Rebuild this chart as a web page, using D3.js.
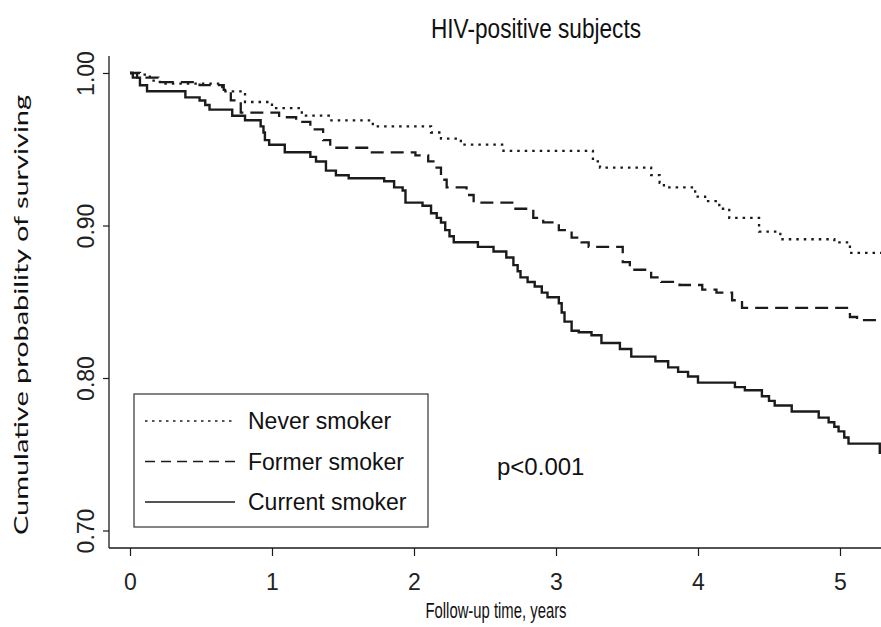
<!DOCTYPE html>
<html>
<head>
<meta charset="utf-8">
<script src="https://cdn.jsdelivr.net/npm/d3@7"></script>
<style>
  body { margin: 0; background: #fff; }
  svg { display: block; }
</style>
</head>
<body>
<div id="chart"></div>
<script>
/**
 * DATA  (follow-up years, cumulative survival)
 * */
const neverSmoker = [
  [0, 1.0], [0.07, 0.999], [0.14, 0.995], [0.21, 0.993], [0.65, 0.988],
  [0.81, 0.981], [1.0, 0.977], [1.21, 0.972], [1.4, 0.969], [1.71, 0.965],
  [2.12, 0.961], [2.19, 0.957], [2.33, 0.953], [2.63, 0.949], [3.26, 0.942],
  [3.31, 0.938], [3.67, 0.933], [3.73, 0.928], [3.76, 0.925], [3.98, 0.919],
  [4.05, 0.916], [4.15, 0.911], [4.22, 0.905], [4.43, 0.896], [4.58, 0.891],
  [4.96, 0.889], [5.07, 0.882], [5.3, 0.882]
];

const formerSmoker = [
  [0, 1.0], [0.05, 0.997], [0.2, 0.994], [0.49, 0.992], [0.66, 0.989],
  [0.71, 0.982], [0.78, 0.974], [1.05, 0.971], [1.17, 0.968], [1.27, 0.963],
  [1.36, 0.956], [1.41, 0.951], [1.69, 0.948], [2.01, 0.946], [2.1, 0.942],
  [2.15, 0.938], [2.19, 0.93], [2.23, 0.925], [2.37, 0.92], [2.42, 0.915],
  [2.7, 0.911], [2.84, 0.905], [2.91, 0.902], [3.02, 0.897], [3.11, 0.892],
  [3.18, 0.889], [3.23, 0.886], [3.47, 0.876], [3.52, 0.871], [3.67, 0.866],
  [3.74, 0.863], [3.87, 0.861], [4.03, 0.858], [4.13, 0.856], [4.24, 0.851],
  [4.31, 0.846], [5.07, 0.84], [5.12, 0.838], [5.3, 0.838]
];

const currentSmoker = [
  [0, 1.0], [0.02, 0.997], [0.07, 0.992], [0.12, 0.988], [0.39, 0.984],
  [0.49, 0.982], [0.53, 0.979], [0.56, 0.976], [0.72, 0.972], [0.81, 0.969],
  [0.92, 0.965], [0.94, 0.961], [0.95, 0.956], [0.98, 0.953], [1.09, 0.948],
  [1.27, 0.945], [1.31, 0.942], [1.38, 0.936], [1.45, 0.933], [1.54, 0.931],
  [1.79, 0.929], [1.86, 0.925], [1.92, 0.923], [1.94, 0.915], [2.06, 0.913],
  [2.12, 0.908], [2.16, 0.905], [2.19, 0.902], [2.22, 0.897], [2.25, 0.893],
  [2.28, 0.889], [2.45, 0.886], [2.56, 0.883], [2.65, 0.879], [2.7, 0.874],
  [2.73, 0.87], [2.75, 0.866], [2.8, 0.863], [2.85, 0.86], [2.9, 0.856],
  [2.94, 0.853], [3.02, 0.849], [3.04, 0.843], [3.06, 0.837], [3.11, 0.831],
  [3.16, 0.83], [3.25, 0.828], [3.32, 0.823], [3.45, 0.819], [3.53, 0.814],
  [3.7, 0.811], [3.79, 0.807], [3.86, 0.804], [3.93, 0.801], [4.0, 0.797],
  [4.26, 0.794], [4.33, 0.792], [4.45, 0.788], [4.5, 0.785], [4.54, 0.782],
  [4.66, 0.778], [4.85, 0.774], [4.92, 0.771], [4.96, 0.768], [4.99, 0.765],
  [5.03, 0.761], [5.06, 0.757], [5.28, 0.751], [5.3, 0.751]
];

const seriesNames = ["Never smoker", "Former smoker", "Current smoker"];
const xTicks = [0, 1, 2, 3, 4, 5];
const yTicks = [0.7, 0.8, 0.9, 1.0];

/**
 * CONSTANTS
 * */
const width = 881, height = 627;
const ink = "#1b1b1b";
const narrow = "'Liberation Sans Narrow', 'Arial Narrow', 'Liberation Sans', Arial, sans-serif";
const sans = "'Liberation Sans', Arial, sans-serif";

const dashes = ["2.5,5", "13,7", null];
const legendDashes = ["2.5,4.5", "10,6", null];

const svg = d3.select("#chart")
  .append("svg")
  .attr("width", width)
  .attr("height", height);

const x = d3.scaleLinear().domain([0, 5.3]).range([130, 130 + 142 * 5.3]);
const y = d3.scaleLinear().domain([0.7, 1.0]).range([530.5, 73]);

// axes (R-style: left and bottom only)
const axisX = 109, axisY = 548;

svg.append("line")
  .attr("x1", axisX).attr("x2", axisX)
  .attr("y1", 56).attr("y2", axisY)
  .attr("stroke", ink).attr("stroke-width", 1.3);

svg.append("line")
  .attr("x1", axisX).attr("x2", width)
  .attr("y1", axisY).attr("y2", axisY)
  .attr("stroke", ink).attr("stroke-width", 1.3);

const gy = svg.append("g")
  .attr("transform", `translate(${axisX},0)`)
  .call(d3.axisLeft(y).tickValues(yTicks).tickSize(6).tickFormat(d3.format(".2f")));
gy.select(".domain").remove();
gy.selectAll(".tick line").attr("stroke", ink).attr("stroke-width", 1.2);
gy.selectAll(".tick text")
  .attr("x", 0).attr("dy", 0)
  .attr("transform", "translate(-15,0) rotate(-90)")
  .attr("text-anchor", "middle")
  .attr("font-family", sans)
  .attr("font-size", 23)
  .attr("fill", "#222");

const gx = svg.append("g")
  .attr("transform", `translate(0,${axisY})`)
  .call(d3.axisBottom(x).tickValues(xTicks).tickSize(8).tickFormat(d3.format("d")));
gx.select(".domain").remove();
gx.selectAll(".tick line").attr("stroke", ink).attr("stroke-width", 1.2);
gx.selectAll(".tick text")
  .attr("y", 26).attr("dy", "0.71em")
  .attr("font-family", narrow)
  .attr("font-size", 23)
  .attr("fill", "#222");

// survival curves
const line = d3.line()
  .x(d => x(d[0]))
  .y(d => y(d[1]))
  .curve(d3.curveStepAfter);

[neverSmoker, formerSmoker, currentSmoker].forEach((data, i) => {
  svg.append("path")
    .datum(data)
    .attr("fill", "none")
    .attr("stroke", ink)
    .attr("stroke-width", i === 2 ? 2.4 : 2.3)
    .attr("stroke-dasharray", dashes[i])
    .attr("d", line);
});

// legend
const legend = svg.append("g");
legend.append("rect")
  .attr("x", 134).attr("y", 394)
  .attr("width", 294).attr("height", 133)
  .attr("fill", "#fff")
  .attr("stroke", "#333").attr("stroke-width", 1.2);

seriesNames.forEach((name, i) => {
  const ly = 421 + i * 40.5;
  legend.append("line")
    .attr("x1", 145).attr("x2", 235)
    .attr("y1", ly).attr("y2", ly)
    .attr("stroke", ink).attr("stroke-width", 1.4)
    .attr("stroke-dasharray", legendDashes[i]);
  legend.append("text")
    .attr("x", 248).attr("y", ly)
    .attr("dy", "0.35em")
    .attr("font-family", sans)
    .attr("font-size", 23)
    .attr("fill", "#111")
    .text(name);
});

svg.append("text")
  .attr("x", 497).attr("y", 467)
  .attr("dy", "0.35em")
  .attr("font-family", sans)
  .attr("font-size", 24)
  .attr("fill", "#111")
  .text("p<0.001");

// titles
svg.append("text")
  .attr("x", 536).attr("y", 38)
  .attr("text-anchor", "middle")
  .attr("font-family", narrow)
  .attr("font-size", 27)
  .attr("textLength", 210)
  .attr("lengthAdjust", "spacingAndGlyphs")
  .attr("fill", "#111")
  .text("HIV-positive subjects");

svg.append("text")
  .attr("x", 496).attr("y", 618)
  .attr("text-anchor", "middle")
  .attr("font-family", narrow)
  .attr("font-size", 22)
  .attr("textLength", 141)
  .attr("lengthAdjust", "spacingAndGlyphs")
  .attr("fill", "#111")
  .text("Follow-up time, years");

svg.append("text")
  .attr("transform", "translate(28,315) rotate(-90)")
  .attr("text-anchor", "middle")
  .attr("font-family", "Lato, 'Open Sans', sans-serif")
  .attr("font-size", 20)
  .attr("textLength", 440)
  .attr("lengthAdjust", "spacingAndGlyphs")
  .attr("fill", "#111")
  .text("Cumulative probability of  surviving");
</script>
</body>
</html>
